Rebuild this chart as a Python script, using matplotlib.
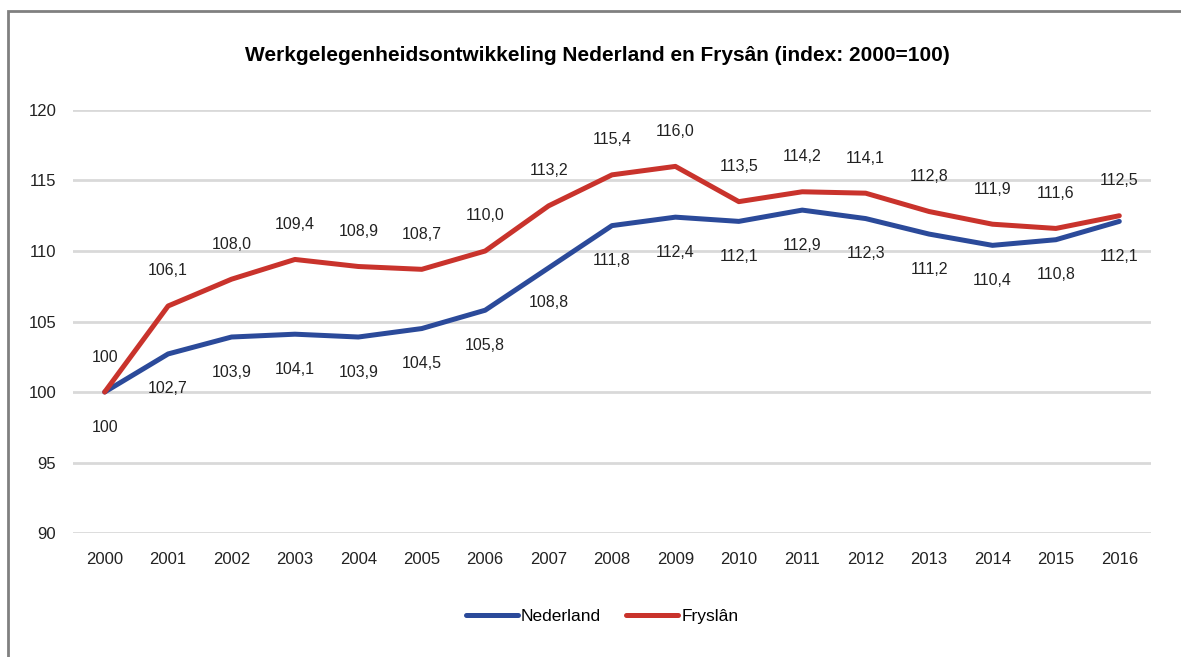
import numpy as np
import matplotlib
matplotlib.use("Agg")
import matplotlib.pyplot as plt
from matplotlib.patches import Rectangle

plt.rcParams['font.family'] = ['Liberation Sans', 'DejaVu Sans']

years = [str(y) for y in range(2000, 2017)]
nederland = [100, 102.7, 103.9, 104.1, 103.9, 104.5, 105.8, 108.8, 111.8,
             112.4, 112.1, 112.9, 112.3, 111.2, 110.4, 110.8, 112.1]
fryslan = [100, 106.1, 108.0, 109.4, 108.9, 108.7, 110.0, 113.2, 115.4,
           116.0, 113.5, 114.2, 114.1, 112.8, 111.9, 111.6, 112.5]


def lab(v):
    if v == 100:
        return "100"
    return f"{v:.1f}".replace('.', ',')


blue = '#2b4a9a'
red = '#c9332c'

fig = plt.figure(figsize=(11.81, 6.57), dpi=100)
ax = fig.add_axes([0.0618, 0.1887, 0.9128, 0.6439])

x = np.arange(len(years))
ax.plot(x, nederland, color=blue, lw=3.6, solid_capstyle='round', label='Nederland', zorder=3)
ax.plot(x, fryslan, color=red, lw=3.6, solid_capstyle='round', label='Fryslân', zorder=3)

for i, v in enumerate(fryslan):
    ax.annotate(lab(v), (i, v), xytext=(0, 35), textcoords='offset pixels',
                ha='center', va='center', fontsize=11.5, color='#222222')
for i, v in enumerate(nederland):
    ax.annotate(lab(v), (i, v), xytext=(0, -35), textcoords='offset pixels',
                ha='center', va='center', fontsize=11.5, color='#222222')

ax.set_xlim(-0.5, len(years) - 0.5)
ax.set_ylim(90, 120)
ax.set_yticks(range(90, 121, 5))
ax.set_xticks(x)
ax.set_xticklabels(years)
ax.tick_params(length=0, labelsize=12, colors='#222222')
ax.tick_params(axis='y', pad=12)
ax.tick_params(axis='x', pad=14)
ax.grid(axis='y', color='#d9d9d9', lw=2)
ax.set_axisbelow(True)
for s in ax.spines.values():
    s.set_visible(False)

fig.text(0.506, 0.916, 'Werkgelegenheidsontwikkeling Nederland en Frysân (index: 2000=100)',
         ha='center', va='center', fontsize=15, fontweight='bold')

fig.legend(loc='center', bbox_to_anchor=(0.51, 0.062), ncol=2, frameon=False,
           fontsize=12.5, handlelength=3.0, handletextpad=0.2, columnspacing=1.45)

fig.add_artist(Rectangle((0.0068, -0.05), 1.2, 0.05 + 0.983, transform=fig.transFigure,
                         fill=False, edgecolor='#808080', lw=2))

fig.savefig('out.png', dpi=100)
